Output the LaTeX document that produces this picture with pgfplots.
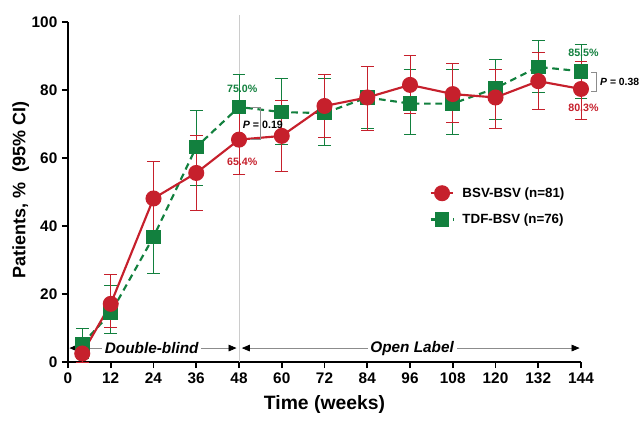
\documentclass[border=0pt]{standalone}
\usepackage{fontspec}
\setmainfont{Liberation Sans}
\usepackage{pgfplots}
\pgfplotsset{compat=1.18}
\usetikzlibrary{arrows.meta}
\definecolor{cred}{RGB}{198,32,44}
\definecolor{cgreen}{RGB}{18,128,62}
\pgfplotstableread{
x y ep em
4 2.5 2.5 2.5
12 17.1 8.5 7.0
24 48.1 11.0 11.0
36 55.6 10.9 10.9
48 65.4 10.0 10.4
60 66.5 10.5 10.5
72 75.3 9.4 9.4
84 77.8 9.0 9.6
96 81.5 8.5 8.5
108 78.8 9.1 8.5
120 77.8 8.2 9.1
132 82.6 8.4 8.2
144 80.3 8.2 8.9
}\redtab
\pgfplotstableread{
x y ep em
4 5.3 4.7 4.3
12 14.4 8.0 6.0
24 36.8 10.7 10.8
36 63.2 10.8 11.2
48 75.0 9.7 10.0
60 73.5 10.0 9.5
72 73.2 10.3 9.4
84 77.8 9.0 9.2
96 76.0 9.9 9.2
108 76.0 9.9 9.2
120 80.5 8.5 9.1
132 86.8 7.7 7.6
144 85.5 7.9 8.0
}\greentab
\begin{document}
\begin{tikzpicture}
\begin{axis}[
  at={(0,0)}, anchor=south west,
  scale only axis, width=384.75pt, height=255pt,
  xmin=0, xmax=144, ymin=0, ymax=100,
  axis lines=left,
  axis line style={-, line width=1.8pt, black},
  xtick={0,12,...,144}, ytick={0,20,...,100},
  tick align=outside, major tick length=4.5pt,
  tick style={line width=1.4pt, black},
  /pgf/number format/assume math mode=true,
  ticklabel style={font=\bfseries\fontsize{11.5}{13}\selectfont},
  xlabel={Time (weeks)}, ylabel={Patients, \%~~(95\% CI)},
  xlabel style={at={(axis description cs:0.5,-0.126)}, anchor=center, font=\bfseries\fontsize{14.5}{16}\selectfont},
  ylabel style={at={(axis description cs:-0.092,0.506)}, anchor=center, font=\bfseries\fontsize{13.5}{16}\selectfont},
  clip=false,
  reverse legend,
  legend style={at={(axis cs:100.3,53.0)}, anchor=north west, draw=none, fill=none,
    font=\bfseries\fontsize{10}{12}\selectfont, row sep=7pt,
    /tikz/every odd column/.append style={column sep=4pt}},
  legend cell align=left,
]
\draw[black!20, line width=0.6pt] (axis cs:48,0) -- (axis cs:48,102);
% green series
\addplot[cgreen, line width=1.6pt, dash pattern=on 5pt off 3.5pt,
  mark=square*, mark size=4.7pt, mark options={solid, fill=cgreen, draw=cgreen},
  error bars/.cd, y dir=both, y explicit,
  error bar style={solid, line width=0.75pt, cgreen},
  error mark options={rotate=90, mark size=4.8pt, line width=0.75pt, cgreen}]
  table[x=x, y=y, y error plus=ep, y error minus=em] {\greentab};
\addlegendentry{TDF-BSV (n=76)}
% red series
\addplot[cred, line width=1.6pt,
  mark=*, mark size=5.2pt, mark options={solid, fill=cred, draw=cred},
  error bars/.cd, y dir=both, y explicit,
  error bar style={solid, line width=0.75pt, cred},
  error mark options={rotate=90, mark size=4.8pt, line width=0.75pt, cred}]
  table[x=x, y=y, y error plus=ep, y error minus=em] {\redtab};
\addlegendentry{BSV-BSV (n=81)}
% phase arrows
\draw[black!45, line width=0.5pt, {Triangle[black,length=6pt,width=5pt]}-{Triangle[black,length=6pt,width=5pt]}]
  (axis cs:0.4,4.1) -- (axis cs:47.3,4.1);
\draw[black!45, line width=0.5pt, {Triangle[black,length=6pt,width=5pt]}-{Triangle[black,length=6pt,width=5pt]}]
  (axis cs:48.8,4.1) -- (axis cs:143.6,4.1);
\node[fill=white, inner sep=2pt, font=\bfseries\itshape\fontsize{11.5}{13}\selectfont] at (axis cs:23.5,4.1) {Double-blind};
\node[fill=white, inner sep=2pt, font=\bfseries\itshape\fontsize{11.5}{13}\selectfont] at (axis cs:96.6,4.1) {Open Label};
% P brackets
\draw[black!45, line width=0.6pt] (axis cs:51.3,75) -- (axis cs:53.9,75) -- (axis cs:53.9,65.4) -- (axis cs:51.3,65.4);
\node[font=\bfseries\fontsize{8}{10}\selectfont, inner sep=0pt] at (axis cs:54.7,69.9) {\textit{P} = 0.19};
\draw[black!45, line width=0.6pt] (axis cs:146.9,85.3) -- (axis cs:148.3,85.3) -- (axis cs:148.3,79.5) -- (axis cs:146.9,79.5);
\node[font=\bfseries\fontsize{7.8}{10}\selectfont, inner sep=0pt, anchor=west] at (axis cs:149.3,82.4) {\textit{P} = 0.38};
% value labels
\node[cgreen, font=\bfseries\fontsize{8}{10}\selectfont] at (axis cs:48.9,80.2) {75.0\%};
\node[cred, font=\bfseries\fontsize{8}{10}\selectfont] at (axis cs:48.9,58.8) {65.4\%};
\node[cgreen, font=\bfseries\fontsize{8}{10}\selectfont] at (axis cs:144.7,91.0) {85.5\%};
\node[cred, font=\bfseries\fontsize{8}{10}\selectfont] at (axis cs:144.7,74.8) {80.3\%};
\end{axis}
\pgfresetboundingbox
\path (-51pt,-46.5pt) rectangle (429.75pt,271.5pt);
\end{tikzpicture}
\end{document}
